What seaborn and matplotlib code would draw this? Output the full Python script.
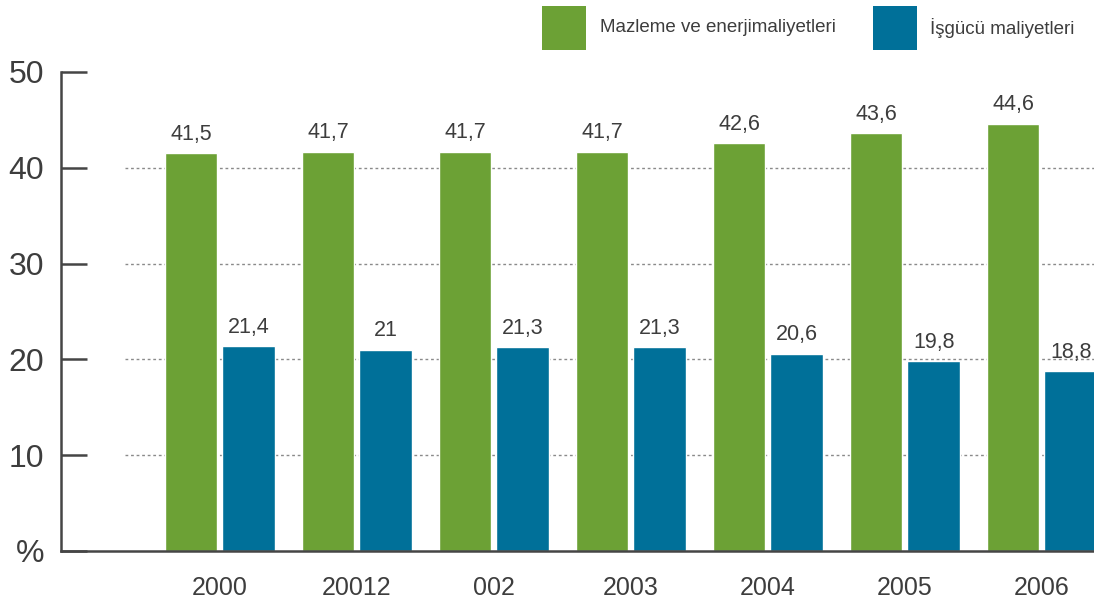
import matplotlib
matplotlib.use("Agg")
import matplotlib.pyplot as plt
from matplotlib.patches import Rectangle
import pandas as pd
import seaborn as sns

# Chart data
years = ["2000", "20012", "002", "2003", "2004", "2005", "2006"]
series_names = ["Mazleme ve enerjimaliyetleri", "İşgücü maliyetleri"]
material_energy = [41.5, 41.7, 41.7, 41.7, 42.6, 43.6, 44.6]
labour = [21.4, 21.0, 21.3, 21.3, 20.6, 19.8, 18.8]
y_ticks = [0, 10, 20, 30, 40, 50]
y_tick_labels = ["%", "10", "20", "30", "40", "50"]

GREEN = "#6ca135"
BLUE = "#007099"
TEXT = "#3d3d3d"
AXIS = "#454545"

sns.set_theme(style="white")
plt.rcParams["font.family"] = ["Liberation Sans", "DejaVu Sans"]

df = pd.DataFrame({
    "year": years * 2,
    "value": material_energy + labour,
    "series": [series_names[0]] * len(years) + [series_names[1]] * len(years),
})

fig = plt.figure(figsize=(10.94, 6.03), dpi=100)
ax = fig.add_axes([61 / 1094, 52 / 603, 1 - 61 / 1094, (531 - 52) / 603])

sns.barplot(data=df, x="year", y="value", hue="series", order=years,
            hue_order=series_names, palette=[GREEN, BLUE],
            width=0.845, gap=0.086, saturation=1, legend=False, ax=ax, zorder=3)

ax.set_xlim(-1.16, 6.38)
ax.set_ylim(0, 50)

# dotted reference lines
ax.hlines([10, 20, 30, 40], -0.69, 6.38, colors="#8a8a8a", linestyles=(0, (2, 2)),
          linewidth=1, zorder=1)

# value labels in Turkish decimal style
for cont, vals in zip(ax.containers, [material_energy, labour]):
    labels = [f"{v:g}".replace(".", ",") for v in vals]
    ax.bar_label(cont, labels=labels, padding=6, fontsize=15.5, color=TEXT)

ax.set_yticks(y_ticks)
ax.set_yticklabels(y_tick_labels)
ax.set_xlabel("")
ax.set_ylabel("")
ax.tick_params(axis="y", direction="in", length=19, width=1.8, color=AXIS,
               labelsize=23, labelcolor=TEXT, pad=12, left=True)
ax.tick_params(axis="x", length=0, labelsize=18, labelcolor=TEXT, pad=18)

for side in ["top", "right"]:
    ax.spines[side].set_visible(False)
for side in ["left", "bottom"]:
    ax.spines[side].set_color(AXIS)
    ax.spines[side].set_linewidth(1.8)
    ax.spines[side].set_zorder(4)

# legend with square swatches across the top
legend_items = [(542, GREEN, series_names[0], 600), (873, BLUE, series_names[1], 930)]
for x0, col, name, tx in legend_items:
    fig.add_artist(Rectangle((x0 / 1094, 1 - 50 / 603), 44 / 1094, 44 / 603,
                             transform=fig.transFigure, facecolor=col,
                             edgecolor="none"))
    fig.text(tx / 1094, 1 - 28 / 603, name, fontsize=13.5, color=TEXT,
             ha="left", va="center")

fig.savefig("out.png", dpi=100)
